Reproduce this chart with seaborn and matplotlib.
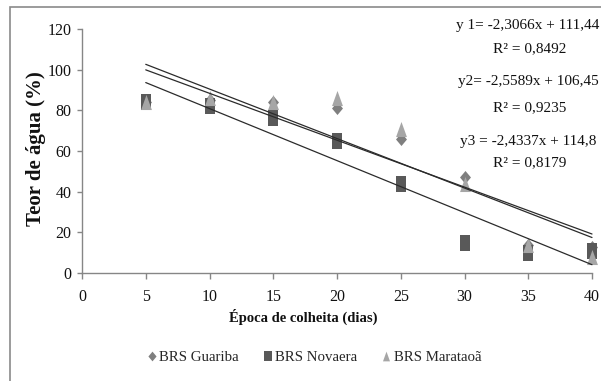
import numpy as np
import pandas as pd
import matplotlib
matplotlib.use("Agg")
import matplotlib.pyplot as plt
import seaborn as sns
from matplotlib.path import Path
from matplotlib.lines import Line2D
from matplotlib.patches import Rectangle

# Harvest time (days after anthesis) and grain water content (%)
dias = [5, 10, 15, 20, 25, 30, 35, 40]
guariba = [84, 85, 84, 81, 66, 47, 14, 13]
novaera = [84, 82, 76, 65, 44, 15, 10, 11]
marataoa = [84, 86, 84, 86, 71, 44, 14, 8]

cultivares = ["BRS Guariba", "BRS Novaera", "BRS Marataoã"]
cores = ["#7f7f7f", "#595959", "#a6a6a6"]

# Fitted linear regressions (one per cultivar)
inclinacoes = [-2.3066, -2.5589, -2.4337]
interceptos = [111.44, 106.45, 114.8]
r2 = [0.8492, 0.9235, 0.8179]
prefixos = ["y 1=", "y2=", "y3 ="]

xticks = [0, 5, 10, 15, 20, 25, 30, 35, 40]
yticks = [0, 20, 40, 60, 80, 100, 120]


def forma(verts):
    verts = list(verts) + [verts[0]]
    return Path(verts, closed=True)


losango = forma([(0, 0.5), (0.42, 0), (0, -0.5), (-0.42, 0)])
quadrado = forma([(-0.34, -0.5), (0.34, -0.5), (0.34, 0.5), (-0.34, 0.5)])
triangulo = forma([(0, 0.5), (0.36, -0.5), (-0.36, -0.5)])
marcadores = [losango, quadrado, triangulo]
tamanhos = [88, 132, 118]

sns.set_theme(style="white")
plt.rcParams["font.family"] = ["Liberation Serif", "DejaVu Serif"]

fig = plt.figure(figsize=(6.01, 3.81), dpi=100)
ax = fig.add_axes([82 / 601, 1 - 273 / 381, 510 / 601, 244 / 381])

df = pd.DataFrame({
    "dias": dias * 3,
    "teor": guariba + novaera + marataoa,
    "cultivar": np.repeat(cultivares, len(dias)),
})

for nome, cor, mk, s in zip(cultivares, cores, marcadores, tamanhos):
    sub = df[df["cultivar"] == nome]
    sns.scatterplot(data=sub, x="dias", y="teor", marker=mk, s=s, color=cor,
                    linewidth=0, ax=ax, clip_on=False, zorder=2, legend=False)

for a, b in zip(inclinacoes, interceptos):
    xs = np.array([5.0, 40.0])
    sns.lineplot(x=xs, y=a * xs + b, color="#2b2b2b", linewidth=0.9, ax=ax,
                 zorder=3, clip_on=False)

ax.set_xlim(0, 40)
ax.set_ylim(0, 120)
ax.set_xticks(xticks)
ax.set_yticks(yticks)
sns.despine(ax=ax)
for sp in ("left", "bottom"):
    ax.spines[sp].set_color("#868686")
    ax.spines[sp].set_linewidth(1.0)

ax.tick_params(axis="x", bottom=True, direction="out", length=4.5, width=1,
               color="#868686", pad=7, labelsize=11.5, labelcolor="#111111")
ax.tick_params(axis="y", left=True, direction="out", length=3.5, width=1,
               color="#868686", pad=4, labelsize=11.5, labelcolor="#111111")

ax.set_xlabel("Época de colheita (dias)", fontsize=10.5, fontweight="bold",
              color="#111111")
ax.xaxis.set_label_coords((303 - 82) / 510, -(309 - 273) / 244)
ax.set_ylabel("Teor de água (%)", fontsize=15, fontweight="bold",
              color="#111111")
ax.yaxis.set_label_coords((46 - 82) / 510, (273 - 149) / 244)

# Regression equations and coefficients of determination
eq_y = [25.7, 81.7, 141]
r2_y = [49, 107.5, 162.7]
for pre, a, b, r, ye, yr in zip(prefixos, inclinacoes, interceptos, r2, eq_y, r2_y):
    eq = f"{pre} {a:.4f}x + {b:g}".replace(".", ",")
    fig.text(528 / 601, 1 - ye / 381, eq, ha="center", va="center",
             fontsize=11, color="#111111")
    fig.text(530 / 601, 1 - yr / 381, f"R² = {r:.4f}".replace(".", ","),
             ha="center", va="center", fontsize=11, color="#111111")

handles = [Line2D([], [], linestyle="", marker=mk, color=cor, markersize=ms,
                  markeredgewidth=0)
           for mk, cor, ms in zip(marcadores, cores, [7, 7.5, 7])]
fig.legend(handles, cultivares, loc="center",
           bbox_to_anchor=(314 / 601, 1 - 357 / 381), ncol=3, frameon=False,
           fontsize=10.7, handletextpad=0.15, columnspacing=1.6,
           handlelength=0.7, borderpad=0, borderaxespad=0)

# Outer chart border
fig.add_artist(Rectangle((10 / 601, -0.05), 1.0, 1 - 7 / 381 + 0.05,
                         transform=fig.transFigure, fill=False,
                         edgecolor="#8a8a8a", linewidth=1.2))

fig.savefig("out.png", dpi=100)
